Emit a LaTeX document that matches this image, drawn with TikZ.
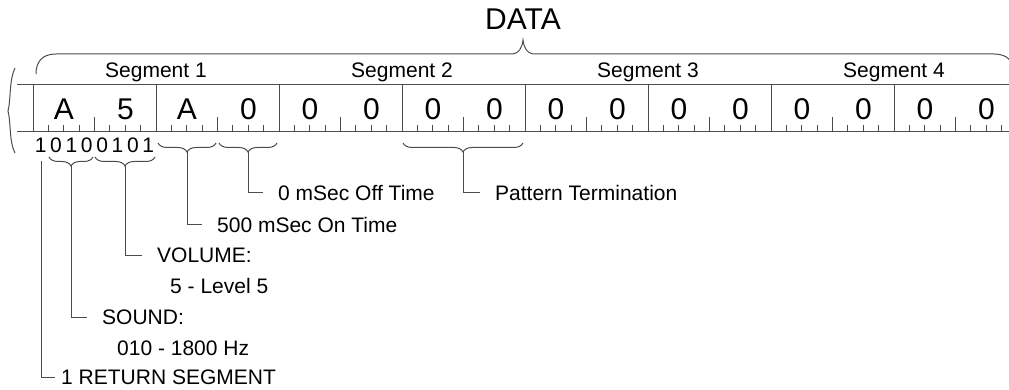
\documentclass[tikz,border=0pt]{standalone}
\usepackage{fontspec}
\setmainfont{Liberation Sans}
\usetikzlibrary{decorations.pathreplacing}
\tikzset{
  rule/.style={line width=1pt, black!70},
  digit/.style={font=\fontsize{30}{36}\selectfont, inner sep=0pt, anchor=base},
  bitnum/.style={font=\fontsize{21}{25}\selectfont, inner sep=0pt, anchor=base},
  seglbl/.style={font=\fontsize{21}{25}\selectfont, inner sep=0pt, anchor=base},
  lbl/.style={font=\fontsize{21}{25}\selectfont, anchor=west, inner sep=0pt, inner xsep=15pt},
  nibbrace/.style={rule, decorate, decoration={brace, mirror, amplitude=9pt}}
}
% one byte of the ruler: #1 index, #2 high nibble, #3 low nibble
\newcommand{\bytecell}[3]{%
  \draw[rule] ({33+123*#1},85) -- ({33+123*#1},132);
  \foreach \j in {1,...,7} {\draw[rule] ({33+123*#1+15.375*\j},132) -- ++(0,-7);}
  \draw[rule] ({33+123*#1+61.5},132) -- ++(0,-15);
  \node[digit] (hi#1) at ({64+123*#1},120) {#2};
  \node[digit] (lo#1) at ({125.5+123*#1},120) {#3};
}
\begin{document}
\begin{tikzpicture}[x=1pt, y=-1pt]
    \useasboundingbox (0,0) rectangle (1009,390);
    % title and segment bracket
    \node[digit] (data) at (523,30) {DATA};
    \draw[rule] (36,74) .. controls (36,62) and (42,54) .. (56,54) -- (513,54)
        .. controls (519,53) and (522,48) .. (523,40)
        .. controls (524,48) and (527,53) .. (533,54) -- (994,54)
        .. controls (1008,54) and (1014,62) .. (1014,74);
    \foreach \s in {1,...,4}
        \node[seglbl] (seg\s) at ({156+246*(\s-1)},78) {Segment \s};
    % left bracket
    \draw[rule] (15,68) .. controls (9,80) and (11,100) .. (8,111)
        .. controls (11,122) and (9,142) .. (15,153);
    % ruler
    \draw[rule] (17,85) -- (1009,85);
    \draw[rule] (17,132) -- (1009,132);
    \bytecell{0}{A}{5}
    \bytecell{1}{A}{0}
    \bytecell{2}{0}{0}
    \bytecell{3}{0}{0}
    \bytecell{4}{0}{0}
    \bytecell{5}{0}{0}
    \bytecell{6}{0}{0}
    \bytecell{7}{0}{0}
    % bits of the first byte
    \foreach \b [count=\i from 0] in {1,0,1,0,0,1,0,1}
        \node[bitnum] (bit\i) at ({33+15.375*(\i+0.5)},153) {\b};
    % braces
    \draw[nibbrace] (49,157) -- (93,157);
    \draw[nibbrace] (95,157) -- (155,157);
    \draw[nibbrace] (158,143) -- (216,143);
    \draw[nibbrace] (219,143) -- (277,143);
    \draw[nibbrace] (403,143) -- (523,143);
    \coordinate (sndtip) at (71,166);
    \coordinate (voltip) at (125,166);
    \coordinate (ontip) at (187,152);
    \coordinate (offtip) at (248,152);
    \coordinate (termtip) at (463,152);
    \coordinate (rettop) at (41,161);
    % labels
    \node[lbl] (off) at (263,193) {0 mSec Off Time};
    \node[lbl] (term) at (480,193) {Pattern Termination};
    \node[lbl] (on) at (202,225) {500 mSec On Time};
    \node[lbl] (vol) at (142,255) {VOLUME:};
    \node[lbl] (lvl) at (155,286) {5 - Level 5};
    \node[lbl] (snd) at (87,317) {SOUND:};
    \node[lbl] (hz) at (102,348) {010 - 1800 Hz};
    \node[lbl, inner xsep=6pt] (ret) at (55,377) {1 RETURN SEGMENT};
    % leaders
    \draw[rule] (offtip) |- (off.west);
    \draw[rule] (termtip) |- (term.west);
    \draw[rule] (ontip) |- (on.west);
    \draw[rule] (voltip) |- (vol.west);
    \draw[rule] (sndtip) |- (snd.west);
    \draw[rule] (rettop) |- (ret.west);
\end{tikzpicture}
\end{document}
